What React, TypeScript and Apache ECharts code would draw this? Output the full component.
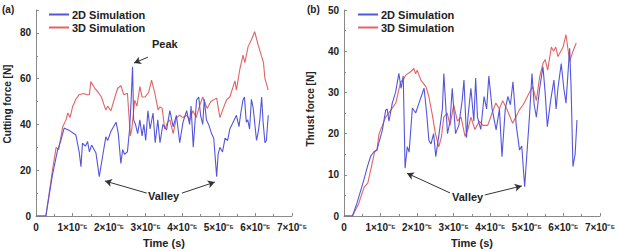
import React, { useEffect, useRef } from "react";
import * as echarts from "echarts";

// time in units of 1e-5 s, force in N
const cut2D: [number, number][] = [
  [0, 0], [0.27, 0], [0.45, 18], [0.59, 28.8], [0.68, 33], [0.77, 38.4], [0.9, 37.5], [1.09, 35.4], [1.18, 28], [1.23, 21.5],
  [1.27, 31.8], [1.35, 30.5], [1.41, 32.5], [1.46, 28], [1.52, 31], [1.64, 27.5], [1.73, 17.2], [1.82, 26], [1.91, 34.6], [1.96, 33],
  [2.05, 37], [2.12, 39], [2.19, 41], [2.25, 36], [2.32, 23], [2.37, 29], [2.42, 27], [2.5, 28], [2.56, 38], [2.6, 50],
  [2.64, 65.2], [2.67, 42], [2.72, 40], [2.78, 36], [2.84, 42], [2.9, 35], [2.95, 40], [3.0, 33], [3.06, 46], [3.12, 38],
  [3.2, 45], [3.26, 32], [3.33, 42], [3.39, 32], [3.47, 40], [3.57, 37.6], [3.66, 46], [3.75, 39], [3.84, 44], [3.93, 32],
  [4.02, 41], [4.12, 46], [4.2, 40], [4.24, 48], [4.3, 30], [4.39, 50.7], [4.45, 52], [4.5, 44], [4.56, 40], [4.6, 51],
  [4.66, 42], [4.72, 40], [4.8, 36], [4.86, 34], [4.94, 17.2], [4.98, 27], [5.03, 30], [5.1, 28], [5.17, 34], [5.24, 33],
  [5.3, 38], [5.39, 41], [5.48, 44], [5.55, 39], [5.6, 45], [5.66, 50.7], [5.7, 52], [5.75, 41], [5.79, 42], [5.84, 38],
  [5.89, 51], [5.94, 47], [6.03, 33], [6.08, 37], [6.12, 42], [6.17, 52], [6.21, 41], [6.26, 32], [6.3, 33], [6.35, 44],
];

const cut3D: [number, number][] = [
  [0, 0], [0.27, 0], [0.45, 20], [0.55, 30], [0.62, 29], [0.73, 39], [0.82, 42], [0.87, 45], [0.93, 43], [1.0, 47.7],
  [1.09, 51], [1.18, 53], [1.3, 53.5], [1.4, 53], [1.46, 53], [1.5, 58.7], [1.6, 56], [1.7, 54], [1.79, 52], [1.85, 49],
  [1.91, 46.3], [1.96, 48], [2.05, 46], [2.14, 51], [2.23, 55.7], [2.32, 57], [2.4, 53], [2.5, 53.6], [2.58, 35], [2.62, 38],
  [2.7, 50.6], [2.76, 48], [2.84, 56.5], [2.9, 52], [2.98, 52], [3.08, 54], [3.16, 59.4], [3.25, 53.6], [3.34, 46.3], [3.39, 47.7],
  [3.45, 47], [3.52, 38], [3.6, 41], [3.66, 42], [3.75, 36], [3.84, 43], [3.93, 44], [4.02, 43], [4.12, 44], [4.2, 42],
  [4.29, 46], [4.38, 43], [4.47, 48], [4.56, 52], [4.68, 47], [4.78, 50], [4.94, 51.5], [5.03, 43], [5.12, 47], [5.21, 50.7],
  [5.3, 52], [5.39, 56.5], [5.44, 59], [5.48, 55], [5.57, 63.8], [5.66, 70.3], [5.71, 67], [5.8, 74], [5.89, 77], [5.98, 80.5],
  [6.07, 75], [6.17, 69.6], [6.22, 67], [6.26, 60], [6.35, 55],
];

const thr2D: [number, number][] = [
  [0, 0], [0.23, 0], [0.35, 3], [0.46, 6.3], [0.55, 9], [0.64, 12], [0.73, 14.5], [0.82, 15.6], [0.9, 16], [1.05, 20.9],
  [1.14, 25.7], [1.18, 26], [1.23, 23], [1.32, 27.4], [1.41, 30], [1.5, 34.6], [1.56, 31], [1.62, 34], [1.67, 11.6], [1.73, 16.8],
  [1.78, 15.5], [1.87, 26.2], [1.96, 25], [2.05, 27.4], [2.19, 31], [2.26, 25], [2.32, 18.4], [2.38, 17.5], [2.45, 20], [2.51, 14.4],
  [2.6, 20], [2.69, 26], [2.73, 34.6], [2.78, 27], [2.83, 20], [2.9, 23], [2.96, 31], [3.05, 20], [3.14, 22], [3.23, 28],
  [3.28, 33], [3.35, 19], [3.39, 24], [3.47, 31], [3.55, 23], [3.6, 33.5], [3.65, 24], [3.74, 21], [3.83, 29], [3.9, 26],
  [3.96, 34], [4.05, 26], [4.16, 20.9], [4.25, 26], [4.32, 14.4], [4.41, 26], [4.48, 29], [4.55, 27], [4.62, 32.6], [4.71, 22],
  [4.8, 16], [4.86, 17], [4.94, 7.1], [5.0, 15], [5.07, 24], [5.14, 34.6], [5.2, 27], [5.26, 24], [5.35, 31], [5.44, 36.2],
  [5.5, 30], [5.56, 21.7], [5.65, 28], [5.74, 33], [5.8, 26], [5.85, 31], [5.94, 37], [6.01, 31], [6.07, 27.4], [6.17, 40.7],
  [6.21, 31], [6.26, 12], [6.32, 15], [6.37, 23.3],
];

const thr3D: [number, number][] = [
  [0, 0], [0.23, 0], [0.4, 3], [0.55, 7], [0.65, 8], [0.75, 12], [0.84, 15.6], [0.9, 16], [0.96, 20], [1.05, 22],
  [1.14, 24], [1.28, 25.7], [1.42, 27.5], [1.55, 32.6], [1.62, 33], [1.69, 34.2], [1.82, 35], [1.91, 35.8], [1.96, 34.5], [2.0, 35.4],
  [2.1, 33], [2.24, 31.4], [2.32, 29], [2.42, 24.3], [2.5, 20], [2.59, 16.8], [2.66, 19], [2.73, 24], [2.82, 25], [2.9, 22],
  [3.0, 27], [3.1, 23], [3.2, 24], [3.31, 19.3], [3.39, 21], [3.47, 24], [3.58, 21], [3.7, 23], [3.8, 22], [3.93, 22],
  [4.05, 25], [4.15, 27.4], [4.25, 26], [4.34, 28], [4.45, 26], [4.61, 22.5], [4.7, 24], [4.79, 25.7], [4.9, 27], [5.07, 30],
  [5.16, 31.4], [5.26, 28], [5.35, 33.8], [5.44, 37], [5.5, 38], [5.57, 35.4], [5.67, 41], [5.73, 40], [5.79, 41], [5.85, 38.7],
  [5.99, 41], [6.07, 44], [6.17, 37.5], [6.26, 40], [6.35, 42],
];

// annotation arrows [from, to] in data coords
const peakArrow: [number, number][] = [[3.06, 69.4], [2.68, 66.8]];
const cutValleyArrows: [number, number][][] = [
  [[3.03, 10], [1.885, 15.3]],
  [[3.99, 10], [4.89, 14.8]],
];
const thrValleyArrows: [number, number][][] = [
  [[2.9, 5.6], [1.72, 10.4]],
  [[3.85, 5.1], [4.86, 7.3]],
];

const xTicks = ["0", "1×10⁻⁵", "2×10⁻⁵", "3×10⁻⁵", "4×10⁻⁵", "5×10⁻⁵", "6×10⁻⁵", "7×10⁻⁵"];
const seriesNames = ["2D Simulation", "3D Simulation"];

const BLUE = "#5555dc";
const RED = "#e06464";
const FONT = "Liberation Sans, Arial, sans-serif";

export default function App() {
  const ref = useRef<HTMLDivElement>(null);
  useEffect(() => {
    document.body.style.margin = "0";
    if (!ref.current) return;
    const chart = echarts.init(ref.current, undefined, { renderer: "svg" });

    const axisLine = { show: true, lineStyle: { color: "#8a8a8a", width: 1 } };
    const labelStyle = { fontFamily: FONT, fontWeight: "bold" as const, fontSize: 10, color: "#222" };
    const xAxisBase = (gridIndex: number) => ({
      type: "value" as const,
      gridIndex,
      min: 0,
      max: 7,
      interval: 1,
      axisLine,
      axisTick: { show: true, inside: true, length: 3, lineStyle: { color: "#8a8a8a" } },
      minorTick: { show: true, splitNumber: 2, length: 2, lineStyle: { color: "#8a8a8a" } },
      splitLine: { show: false },
      axisLabel: { ...labelStyle, margin: 6, formatter: (v: number) => xTicks[Math.round(v)] ?? "" },
      name: "Time (s)",
      nameLocation: "middle" as const,
      nameGap: 21,
      nameTextStyle: { fontFamily: FONT, fontWeight: "bold" as const, fontSize: 11, color: "#222" },
    });
    const yAxisBase = (gridIndex: number, max: number, interval: number, name: string, nameGap: number, shift: number) => ({
      type: "value" as const,
      gridIndex,
      min: 0,
      max,
      interval,
      axisLine,
      axisTick: { show: true, inside: true, length: 3, lineStyle: { color: "#8a8a8a" } },
      minorTick: { show: true, splitNumber: 2, length: 2, lineStyle: { color: "#8a8a8a" } },
      splitLine: { show: false },
      axisLabel: { ...labelStyle, margin: 5, showMaxLabel: max % interval === 0 },
      name,
      nameLocation: "middle" as const,
      nameGap,
      nameTextStyle: {
        fontFamily: FONT, fontWeight: "bold" as const, fontSize: 10, color: "#222",
        padding: [0, 0, 0, shift],
      },
    });

    const arrowLine = (pairs: [number, number][][]) => ({
      silent: true,
      symbol: ["none", "arrow"],
      symbolSize: [6, 7],
      label: { show: false },
      lineStyle: { color: "#333", width: 1, type: "solid" as const },
      data: pairs.map((p) => [{ coord: p[0] }, { coord: p[1] }]),
    });

    const line = (name: string, data: [number, number][], color: string, idx: number, markLine?: any) => ({
      type: "line" as const,
      name,
      data,
      xAxisIndex: idx,
      yAxisIndex: idx,
      showSymbol: false,
      symbol: "none",
      lineStyle: { color, width: 1.1 },
      itemStyle: { color },
      ...(markLine ? { markLine } : {}),
    });

    const legendBase = (left: number) => ({
      left,
      top: 3,
      orient: "vertical" as const,
      itemWidth: 20,
      itemHeight: 2,
      itemGap: 0,
      icon: "rect",
      selectedMode: false,
      data: seriesNames,
      textStyle: {
        fontFamily: FONT, fontWeight: "bold" as const, fontSize: 11, color: "#222",
        lineHeight: 13, padding: [0, 0, 0, -2],
      },
    });

    chart.setOption({
      animation: false,
      backgroundColor: "#fff",
      grid: [
        { left: 36, top: 10, width: 256, height: 206, containLabel: false, outerBoundsMode: "none" },
        { left: 344, top: 10, width: 256, height: 206, containLabel: false, outerBoundsMode: "none" },
      ],
      xAxis: [xAxisBase(0), xAxisBase(1)],
      yAxis: [
        yAxisBase(0, 90, 20, "Cutting force [N]", 24, 18),
        yAxisBase(1, 50, 10, "Thrust force [N]", 29, 8),
      ],
      legend: [legendBase(44), legendBase(353)],
      series: [
        line(seriesNames[1], cut3D, RED, 0),
        line(seriesNames[0], cut2D, BLUE, 0, arrowLine([peakArrow, ...cutValleyArrows])),
        line(seriesNames[1], thr3D, RED, 1),
        line(seriesNames[0], thr2D, BLUE, 1, arrowLine(thrValleyArrows)),
      ],
      graphic: [
        { type: "text", left: 2, top: 4, style: { text: "(a)", font: `bold 10px ${FONT}`, fill: "#222" } },
        { type: "text", left: 307, top: 4, style: { text: "(b)", font: `bold 10px ${FONT}`, fill: "#222" } },
        { type: "text", left: 152, top: 38, style: { text: "Peak", font: `bold 11px ${FONT}`, fill: "#222" } },
        { type: "text", left: 148, top: 190, style: { text: "Valley", font: `bold 11px ${FONT}`, fill: "#222" } },
        { type: "text", left: 452, top: 191, style: { text: "Valley", font: `bold 11px ${FONT}`, fill: "#222" } },
      ],
    });
    return () => chart.dispose();
  }, []);
  return <div ref={ref} style={{ width: 617, height: 251 }} />;
}
